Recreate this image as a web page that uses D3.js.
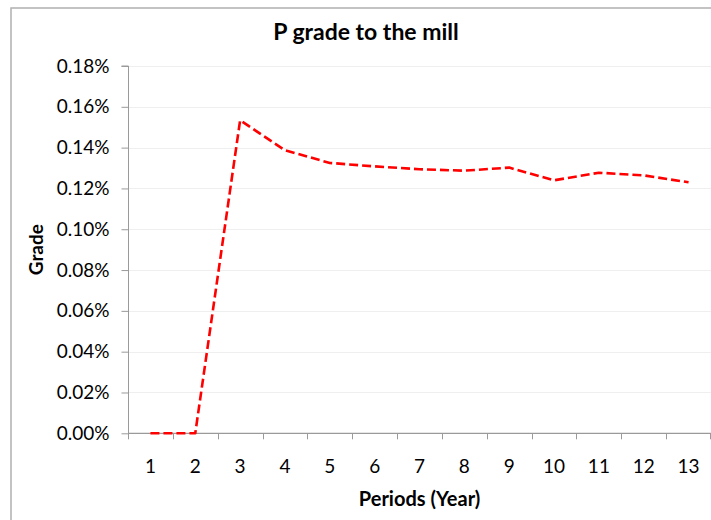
<!DOCTYPE html>
<html>
<head>
<meta charset="utf-8">
<script src="https://cdn.jsdelivr.net/npm/d3@7/dist/d3.min.js"></script>
<style>
  html, body { margin: 0; padding: 0; background: #fff; }
  svg { display: block; }
  text { font-family: "Lato", "Open Sans", sans-serif; fill: #000; }
</style>
</head>
<body>
<svg id="chart" width="711" height="520"></svg>
<script>
// Periods (years) on the x axis
const periods = ["1", "2", "3", "4", "5", "6", "7", "8", "9", "10", "11", "12", "13"];
// P grade delivered to the mill, as a fraction (0.0015 = 0.15%)
const pGrade = [0, 0, 0.001534, 0.001387, 0.001325, 0.001308, 0.001294, 0.001287, 0.001302, 0.001240, 0.001277, 0.001264, 0.001230];
// Y axis tick values
const yTicks = [0, 0.0002, 0.0004, 0.0006, 0.0008, 0.0010, 0.0012, 0.0014, 0.0016, 0.0018];

const svg = d3.select("#chart");
const W = 711, H = 520;
const plot = { left: 128, right: 711, top: 66, bottom: 433.3 };

// Outer chart frame
svg.append("rect")
  .attr("x", 11).attr("y", 8)
  .attr("width", 740).attr("height", 540)
  .attr("fill", "none").attr("stroke", "#b0b0b0").attr("stroke-width", 1.5);

const x = d3.scaleBand().domain(periods).range([plot.left, plot.right]).padding(0);
const y = d3.scaleLinear().domain([0, 0.0018]).range([plot.bottom, plot.top]);

// Horizontal gridlines
svg.append("g").selectAll("line").data(yTicks.slice(1)).join("line")
  .attr("x1", plot.left).attr("x2", plot.right)
  .attr("y1", d => Math.round(y(d)) + 0.5).attr("y2", d => Math.round(y(d)) + 0.5)
  .attr("stroke", "#efefef").attr("stroke-width", 1);

// Y axis
const yAxis = d3.axisLeft(y).tickValues(yTicks).tickFormat(d3.format(".2%")).tickSize(7).tickPadding(12);
const gy = svg.append("g").attr("transform", `translate(${plot.left + 0.5},0)`).call(yAxis);
gy.select(".domain").attr("stroke", "#9a9a9a").attr("d", `M-7,${y(0.0018)}H0V${plot.bottom}`);
gy.selectAll(".tick line").attr("stroke", "#9a9a9a");
gy.selectAll(".tick text").attr("font-size", 19).attr("font-family", "Lato, sans-serif").attr("fill", "#000");

// X axis line and boundary ticks
const bounds = periods.map(p => x(p)).concat([plot.right]);
svg.append("line")
  .attr("x1", plot.left).attr("x2", plot.right)
  .attr("y1", plot.bottom).attr("y2", plot.bottom)
  .attr("stroke", "#9a9a9a").attr("stroke-width", 1.2);
svg.append("g").selectAll("line").data(bounds).join("line")
  .attr("x1", d => Math.min(Math.round(d) + 0.5, W - 0.5)).attr("x2", d => Math.min(Math.round(d) + 0.5, W - 0.5))
  .attr("y1", plot.bottom).attr("y2", plot.bottom + 6)
  .attr("stroke", "#9a9a9a").attr("stroke-width", 1);

// X category labels
svg.append("g").selectAll("text").data(periods).join("text")
  .attr("x", d => x(d) + x.bandwidth() / 2)
  .attr("y", 473)
  .attr("text-anchor", "middle")
  .attr("font-size", 19)
  .text(d => d);

// Grade line
const line = d3.line()
  .x((d, i) => x(periods[i]) + x.bandwidth() / 2)
  .y(d => y(d));
svg.append("path")
  .datum(pGrade)
  .attr("d", line)
  .attr("fill", "none")
  .attr("stroke", "#ff0000")
  .attr("stroke-width", 2.6)
  .attr("stroke-dasharray", "9,4")
  .attr("stroke-linejoin", "round");

// Titles
svg.append("text")
  .attr("x", 366).attr("y", 40)
  .attr("text-anchor", "middle")
  .attr("font-size", 23).attr("font-weight", "bold")
  .text("P grade to the mill");

svg.append("text")
  .attr("x", 419.5).attr("y", 506)
  .attr("text-anchor", "middle")
  .attr("font-size", 20).attr("font-weight", "bold")
  .text("Periods (Year)");

svg.append("text")
  .attr("transform", `translate(43,${(plot.top + plot.bottom) / 2}) rotate(-90)`)
  .attr("text-anchor", "middle")
  .attr("font-size", 19).attr("font-weight", "bold")
  .text("Grade");
</script>
</body>
</html>
